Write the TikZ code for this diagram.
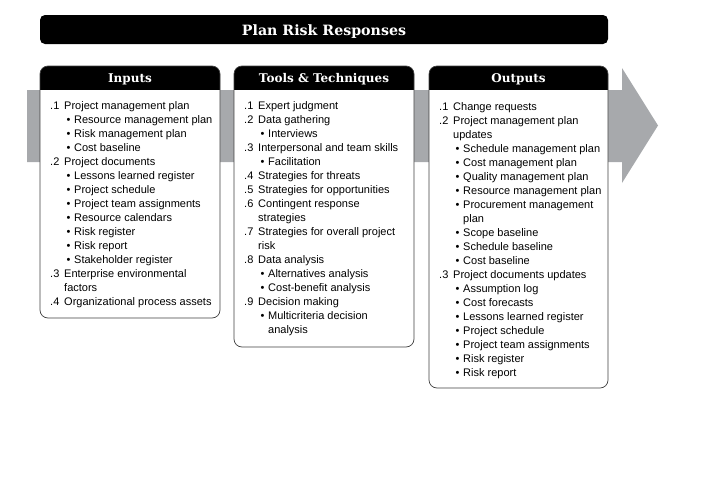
\documentclass[tikz,border=0pt]{standalone}
\usepackage{fontspec}
\setmainfont{Liberation Sans}
\newfontfamily\slabfont{DejaVu Serif}
\definecolor{bandgray}{RGB}{167,169,172}

% list helpers
\newcommand\nmb[2]{\makebox[14pt][l]{#1}#2}
\newcommand\wrp[1]{\hspace*{14pt}#1}
\newcommand\bul[1]{\hspace*{16.5pt}\makebox[7.5pt][l]{\textbullet}#1}
\newcommand\bwrp[1]{\hspace*{24pt}#1}

\tikzset{
  colbox/.style={draw=black!75, line width=0.7pt, rounded corners=8pt},
  headtxt/.style={text=white, inner sep=0pt, anchor=base,
    font=\slabfont\bfseries\fontsize{12}{14}\selectfont},
  titletxt/.style={text=white, inner sep=0pt, anchor=base,
    font=\slabfont\bfseries\fontsize{14.2}{16}\selectfont},
  itemtxt/.style={anchor=base west, inner sep=0pt, font=\fontsize{11}{14}\selectfont},
}

\begin{document}
\begin{tikzpicture}[x=1pt,y=-1pt]
  \useasboundingbox (0,0) rectangle (709,477);

  % Gray process arrow
  \fill[bandgray] (27,90) -- (622,90) -- (622,68) -- (658,125.5)
    -- (622,183) -- (622,162) -- (27,162) -- cycle;

  % Title bar
  \fill[black, rounded corners=5pt] (40,15) rectangle (608,44);
  \node[titletxt] (title) at (324,35) {Plan Risk Responses};

  % Column boxes
  \foreach \l/\r/\b/\n/\h in {40/220/318/inputs/Inputs,
      234/414/347/tools/Tools \& Techniques,
      429/608/388/outputs/Outputs} {
    \fill[white, rounded corners=8pt] (\l,66) rectangle (\r,\b);
    \begin{scope}
      \clip (\l,66) rectangle (\r,89);
      \fill[black, rounded corners=8pt] (\l,66) rectangle (\r,\b);
    \end{scope}
    \draw[colbox] (\l,66) rectangle (\r,\b);
    \node[headtxt] (\n) at ({(\l+\r)/2},82.5) {\h};
  }

  % Inputs
  \foreach \ln [count=\i from 0] in {
    {\nmb{.1}{Project management plan}},
    {\bul{Resource management plan}},
    {\bul{Risk management plan}},
    {\bul{Cost baseline}},
    {\nmb{.2}{Project documents}},
    {\bul{Lessons learned register}},
    {\bul{Project schedule}},
    {\bul{Project team assignments}},
    {\bul{Resource calendars}},
    {\bul{Risk register}},
    {\bul{Risk report}},
    {\bul{Stakeholder register}},
    {\nmb{.3}{Enterprise environmental}},
    {\wrp{factors}},
    {\nmb{.4}{Organizational process assets}}}
    \node[itemtxt] (in\i) at (50,{109+14*\i}) {\ln};

  % Tools & Techniques
  \foreach \ln [count=\i from 0] in {
    {\nmb{.1}{Expert judgment}},
    {\nmb{.2}{Data gathering}},
    {\bul{Interviews}},
    {\nmb{.3}{Interpersonal and team skills}},
    {\bul{Facilitation}},
    {\nmb{.4}{Strategies for threats}},
    {\nmb{.5}{Strategies for opportunities}},
    {\nmb{.6}{Contingent response}},
    {\wrp{strategies}},
    {\nmb{.7}{Strategies for overall project}},
    {\wrp{risk}},
    {\nmb{.8}{Data analysis}},
    {\bul{Alternatives analysis}},
    {\bul{Cost-benefit analysis}},
    {\nmb{.9}{Decision making}},
    {\bul{Multicriteria decision}},
    {\bwrp{analysis}}}
    \node[itemtxt] (tt\i) at (244,{109+14*\i}) {\ln};

  % Outputs
  \foreach \ln [count=\i from 0] in {
    {\nmb{.1}{Change requests}},
    {\nmb{.2}{Project management plan}},
    {\wrp{updates}},
    {\bul{Schedule management plan}},
    {\bul{Cost management plan}},
    {\bul{Quality management plan}},
    {\bul{Resource management plan}},
    {\bul{Procurement management}},
    {\bwrp{plan}},
    {\bul{Scope baseline}},
    {\bul{Schedule baseline}},
    {\bul{Cost baseline}},
    {\nmb{.3}{Project documents updates}},
    {\bul{Assumption log}},
    {\bul{Cost forecasts}},
    {\bul{Lessons learned register}},
    {\bul{Project schedule}},
    {\bul{Project team assignments}},
    {\bul{Risk register}},
    {\bul{Risk report}}}
    \node[itemtxt] (out\i) at (439,{110+14*\i}) {\ln};
\end{tikzpicture}
\end{document}
